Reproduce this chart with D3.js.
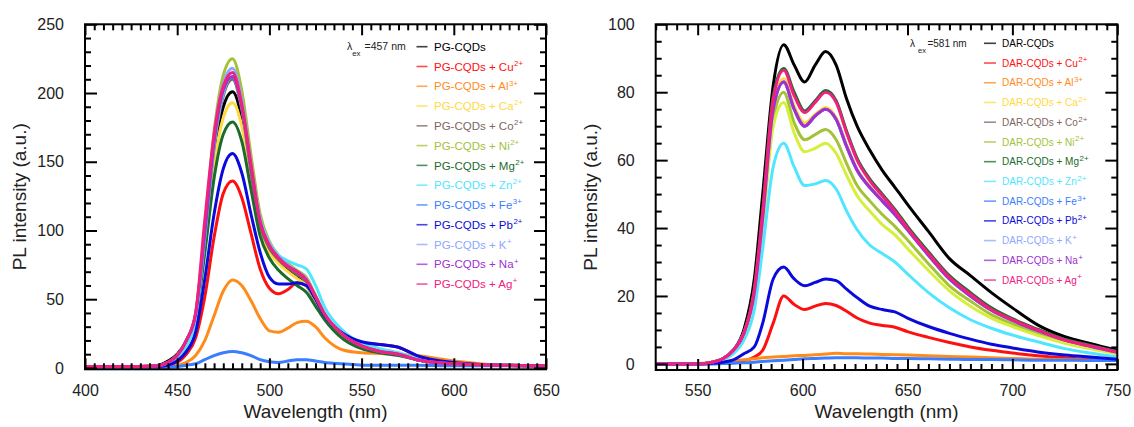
<!DOCTYPE html>
<html><head><meta charset="utf-8">
<script src="https://cdn.jsdelivr.net/npm/d3@7"></script>
<style>
body{margin:0;background:#fff;}
svg{display:block;font-family:"Liberation Sans",Arial,sans-serif;}
</style>
</head><body>
<svg id="c" width="1134" height="427"></svg>
<script>
// ---------- shared legend data ----------
const ions    = ["", "Cu", "Al", "Ca", "Co", "Ni", "Mg", "Zn", "Fe", "Pb", "K", "Na", "Ag"];
const charges = ["", "2+", "3+", "2+", "2+", "2+", "2+", "2+", "3+", "2+", "+", "+", "+"];
const colors  = ["#000000", "#ff1010", "#ff8c1a", "#ffd940", "#7f6460", "#a4c236", "#1b6b2a",
                 "#50e6ff", "#3a7dff", "#0a0adc", "#8ea8ff", "#a030d0", "#f0207f"];

// ---------- left panel (PG-CQDs, λex = 457 nm) ----------
const pgWavelength = [400,430,440,445,450,455,460,465,470,475,480,485,490,495,500,505,510,515,520,525,530,540,550,560,570,580,600,625,650];
const pgBase = [1,1,2,5,10,20,38,92,155,190,201,182,140,102,86,77,71,66,60,49,37,23,15,12,10,6,3,2,1.5];
const pgCu   = [1,1,1,2,4,10,22,52,95,127,136,124,98,72,58,54,57,62,60,50,38,24,18,17,15,9,4,2,1.5];
const pgAl   = [1,1,1,1,2,4,9,20,38,56,64,60,49,36,27,26,29,33,34,30,22,13,11,10.5,10,9,5,2,1.5];
const pgCa   = [1,1,1.5,4,8,18,36,88,148,182,193,176,137,100,84,76,70,65,60,49,37,23,15,12,10,6,3,2,1.5];
const pgCo   = [1,1,1.5,4,9,19,38,95,160,198,210,188,143,104,87,79,73,68,63,51,38,23,15,12,10,6,3,2,1.5];
const pgNi   = [1,1,1.5,4,9,20,40,102,172,213,225,202,155,112,92,82,76,71,66,53,39,24,16,12,10,6,3,2,1.5];
const pgMg   = [1,1,1.5,4,8,18,35,84,138,170,179,165,130,96,80,71,65,60,55,45,35,21,14,11,9,6,3,2,1.5];
const pgZn   = [1,1,1.5,3,7,16,35,95,162,200,212,190,147,108,91,82,78,75,72,60,44,27,18,14,11,7,3,2,1.5];
const pgFe   = [0.5,0.5,0.5,0.5,1,2,3,6,9,11,12,11,9,6,4.5,4,5,6,6,5,4,3,2,2,2,2,1.5,1.5,1.5];
const pgPb   = [1,1,1,2,5,12,26,65,112,145,156,142,112,84,66,61,61,62,60,50,38,25,19,17,15,9,4,2,1.5];
const pgK    = [1,1,1.5,4,9,20,40,100,168,207,218,195,149,108,90,81,75,70,65,52,39,24,16,12,10,6,3,2,1.5];
const pgNa   = [1,1,1.5,4,9,20,39,98,164,202,212,190,146,106,89,80,74,70,64,52,39,24,16,12,10,6,3,2,1.5];
const pgAg   = [1,1,1.5,4,9,20,40,108,170,205,215,192,148,106,89,80,74,70,64,52,39,24,16,12,10,6,3,2,1.5];

// ---------- right panel (DAR-CQDs, λex = 581 nm) ----------
const darWavelength = [530,550,557,562,567,572,577,581,586,591,596,601,606,611,616,621,626,632,638,644,650,660,670,680,690,700,712,725,737,750];
const darBase = [0,0,0.5,1.5,4,10,25,50,82,94,88,83,88,92,88,78,70,63,57,52,47,39,31,26,21,16.5,11.5,8,6,4];
const darCu   = [0,0,0.1,0.3,0.8,1,2,4,12,20,17.5,16,17,17.8,17.2,15.5,13.5,12,11.3,10.8,9.5,7.8,6.3,5,4,3.2,2.4,1.8,1.3,1];
const darAl   = [0,0.1,0.3,0.6,0.9,1.2,1.5,1.8,2,2.2,2.4,2.5,2.7,2.9,3.1,3,3,2.9,2.8,2.7,2.6,2.4,2.2,2,1.8,1.6,1.4,1.2,1.1,1];
const darCa   = [0,0,0.5,1.5,4,9,21,43,76,84,76,71,73.5,75.5,72.5,64.5,57.3,52.3,48.2,44.2,39.6,32.2,25.2,20.2,16,12.9,9.9,7.1,5.3,3.5];
const darCo   = [0,0,0.5,1.5,4,9,21,43,75,83,75,70,73,75,72,64,57,52,48,44,39.5,32,25,20,15.8,12.8,9.8,7,5.2,3.4];
const darNi   = [0,0,0.5,1.5,3.8,8.5,20,41,72,80,71,66,67.5,69,66,59,52.5,48,44,40.5,36.5,29.5,23,18.5,14.5,11.8,9,6.5,4.8,3.1];
const darMg   = [0,0,0.5,1.5,4,9,22,45,79,87,80,74.5,77.5,80.5,77.5,68.5,60.5,54.5,50,45.5,40.5,33,26,21,16.5,13.3,10.2,7.2,5.5,3.6];
const darZn   = [0,0,0.4,1.2,3,7,16,34,58,65,58,52.5,53,54,51.5,45,39.5,35,32.5,30,26.5,21,16.5,13,10.5,8.5,6.5,4.5,3.2,2];
const darFe   = [0,0,0,0.1,0.2,0.3,0.5,0.7,0.9,1.1,1.3,1.5,1.6,1.7,1.8,1.8,1.8,1.7,1.7,1.6,1.6,1.5,1.4,1.3,1.3,1.2,1.1,1.1,1,1];
const darPb   = [0,0,0.2,0.5,1.2,3,5,12,25,28.5,25,23,24,25,24.5,22,19.5,17,16,15.3,13.5,11,9,7.3,5.8,4.7,3.5,2.6,2,1.4];
const darK    = [0,0,0.5,1.5,4,9,21,43,75,83,75,70,73,75,72,64,57,52,48,44,39.5,32,25,20,15.8,12.8,9.8,7,5.2,3.4];
const darNa   = [0,0,0.5,1.5,4,9,21,43,75,83,75,70,73,75,72,64,57,52,48,44,39.5,32,25,20,15.8,12.8,9.8,7,5.2,3.4];
const darLime = [0,0,0.5,1.5,3.7,8.3,19.5,40,70,77,68,62.5,63.5,65,62,55.5,49.5,45,41,38,34,27.5,21.5,17,13.5,11,8.4,6.1,4.5,2.9];
const darAg   = [0,0,0.5,1.5,4,9,22,45,78,86.5,79,74,77,80,77,68,60,54,49.5,45,40,32.5,25.5,20.5,16,13,10,7,5.3,3.5];

// ---------- axis tick values ----------
const pgXMajor = [400,450,500,550,600,650];
const pgYMajor = [0,50,100,150,200,250];
const darXMajor = [550,600,650,700,750];
const darYMajor = [0,20,40,60,80,100];

const svg = d3.select("#c");

function panel(cfg){
  const x = d3.scaleLinear().domain(cfg.xd).range(cfg.xr);
  const y = d3.scaleLinear().domain(cfg.yd).range(cfg.yr);
  const g = svg.append("g");
  const id = "clip" + cfg.key;
  svg.append("defs").append("clipPath").attr("id", id).append("rect")
    .attr("x", cfg.xr[0]).attr("y", cfg.yr[1]).attr("width", cfg.xr[1]-cfg.xr[0]).attr("height", cfg.yr[0]-cfg.yr[1]);

  // curves
  const line = d3.line().x((d,i)=>x(cfg.wl[i])).y(d=>y(d)).curve(d3.curveMonotoneX);
  const lg = g.append("g").attr("clip-path", `url(#${id})`);
  cfg.traces.forEach(s=>{
    lg.append("path").attr("d", line(s.values)).attr("fill","none")
      .attr("stroke", s.color).attr("stroke-width", cfg.lw).attr("stroke-linejoin","round");
  });

  // axes with inward ticks
  const xMinor = d3.range(cfg.xd[0], cfg.xd[1]+0.01, 5).filter(v=>!cfg.xMajor.includes(v));
  const yMinor = d3.range(0, cfg.yd[1]+0.01, cfg.yMinorStep).filter(v=>!cfg.yMajor.includes(v));
  const H = cfg.yr[0], T = cfg.yr[1], L = cfg.xr[0], R = cfg.xr[1];
  const style = sel => { sel.select(".domain").remove(); sel.selectAll("line").attr("stroke","#000").attr("stroke-width",2); };
  const lab = sel => sel.selectAll("text").attr("font-size", 16).attr("fill","#222");

  g.append("g").attr("transform",`translate(0,${H})`).call(d3.axisBottom(x).tickValues(xMinor).tickSize(-6).tickFormat("")).call(style);
  g.append("g").attr("transform",`translate(0,${H})`).call(d3.axisBottom(x).tickValues(cfg.xMajor).tickSize(-11).tickPadding(15).tickFormat(d3.format("d"))).call(style).call(lab);
  g.append("g").attr("transform",`translate(0,${T})`).call(d3.axisTop(x).tickValues(xMinor).tickSize(-6).tickFormat("")).call(style);
  g.append("g").attr("transform",`translate(0,${T})`).call(d3.axisTop(x).tickValues(cfg.xMajor).tickSize(-11).tickFormat("")).call(style);
  g.append("g").attr("transform",`translate(${L},0)`).call(d3.axisLeft(y).tickValues(yMinor).tickSize(-6).tickFormat("")).call(style);
  g.append("g").attr("transform",`translate(${L},0)`).call(d3.axisLeft(y).tickValues(cfg.yMajor).tickSize(-12).tickPadding(21).tickFormat(d3.format("d"))).call(style).call(lab);
  g.append("g").attr("transform",`translate(${R},0)`).call(d3.axisRight(y).tickValues(yMinor).tickSize(-6).tickFormat("")).call(style);
  g.append("g").attr("transform",`translate(${R},0)`).call(d3.axisRight(y).tickValues(cfg.yMajor).tickSize(-12).tickFormat("")).call(style);
  g.selectAll(".tick text").attr("font-family",'"Liberation Sans",Arial,sans-serif');

  // frame
  g.append("rect").attr("x",L).attr("y",T).attr("width",R-L).attr("height",H-T)
    .attr("fill","none").attr("stroke","#000").attr("stroke-width",2);

  // axis titles
  g.append("text").attr("x",(L+R)/2).attr("y",418).attr("text-anchor","middle")
    .attr("font-size",19).attr("fill","#222").text("Wavelength (nm)");
  g.append("text").attr("transform",`translate(${cfg.ytx},${(T+H)/2}) rotate(-90)`).attr("text-anchor","middle")
    .attr("font-size",19).attr("fill","#222").text("PL intensity (a.u.)");

  // excitation label
  const ex = g.append("text").attr("x",cfg.lam[0]).attr("y",cfg.lam[1]).attr("font-size",cfg.lamFs).attr("fill","#222");
  ex.append("tspan").text("λ");
  ex.append("tspan").attr("dx",cfg.lamDx[0]).attr("dy",6).attr("font-size",cfg.lamFs*0.75).text("ex");
  ex.append("tspan").attr("dx",cfg.lamDx[1]).attr("dy",-6).text(cfg.lamText);

  // legend
  cfg.series.forEach((s,i)=>{
    const yy = cfg.leg.y0 + i*cfg.leg.dy;
    g.append("line").attr("x1",cfg.leg.x1).attr("x2",cfg.leg.x2).attr("y1",yy).attr("y2",yy)
      .attr("stroke",s.color).attr("stroke-width",1.6).attr("opacity",0.75);
    const t = g.append("text").attr("x",cfg.leg.tx).attr("y",yy+cfg.leg.fs*0.36)
      .attr("font-size",cfg.leg.fs).attr("fill",s.color);
    t.append("tspan").text(s.label);
    if (s.charge) t.append("tspan").attr("dx",0.5).attr("dy",-cfg.leg.fs*0.42).attr("font-size",cfg.leg.fs*cfg.leg.sup).text(s.charge);
  });
}

function build(prefix, arrays){
  return arrays.map((v,i)=>({
    values: v,
    color: colors[i],
    label: prefix + (ions[i] ? " + " + ions[i] : ""),
    charge: charges[i]
  }));
}

const pgSeries = build("PG-CQDs", [pgBase,pgCu,pgAl,pgCa,pgCo,pgNi,pgMg,pgZn,pgFe,pgPb,pgK,pgNa,pgAg]);
const darSeries = build("DAR-CQDs", [darBase,darCu,darAl,darCa,darCo,darNi,darMg,darZn,darFe,darPb,darK,darNa,darAg]);
// extra lime-coloured trace visible in the right panel (not in legend)
const darTraces = darSeries.slice();
darTraces.splice(6, 0, {values: darLime, color:"#d6ee3c"});

panel({
  key:"L", xd:[400,650], xr:[85,546], yd:[-1,250], yr:[369.3,24.3],
  wl: pgWavelength, series: pgSeries, traces: pgSeries, lw: 3,
  xMajor: pgXMajor, yMajor: pgYMajor, yMinorStep: 10,
  ytx: 26, lam:[347,50], lamFs:10.5, lamDx:[0,4], lamText:"=457 nm",
  leg:{x1:416.5, x2:427.5, tx:434, y0:46.7, dy:19.78, fs:11.5, sup:0.68}
});
panel({
  key:"R", xd:[530,750], xr:[655.7,1117.3], yd:[-1.8,100], yr:[370,24.3],
  wl: darWavelength, series: darSeries, traces: darTraces, lw: 3,
  xMajor: darXMajor, yMajor: darYMajor, yMinorStep: 5,
  ytx: 597, lam:[910,47], lamFs:10, lamDx:[3,1.5], lamText:"=581 nm",
  leg:{x1:984, x2:996, tx:1002, y0:43.3, dy:19.73, fs:10, sup:0.8}
});
</script>
</body></html>
